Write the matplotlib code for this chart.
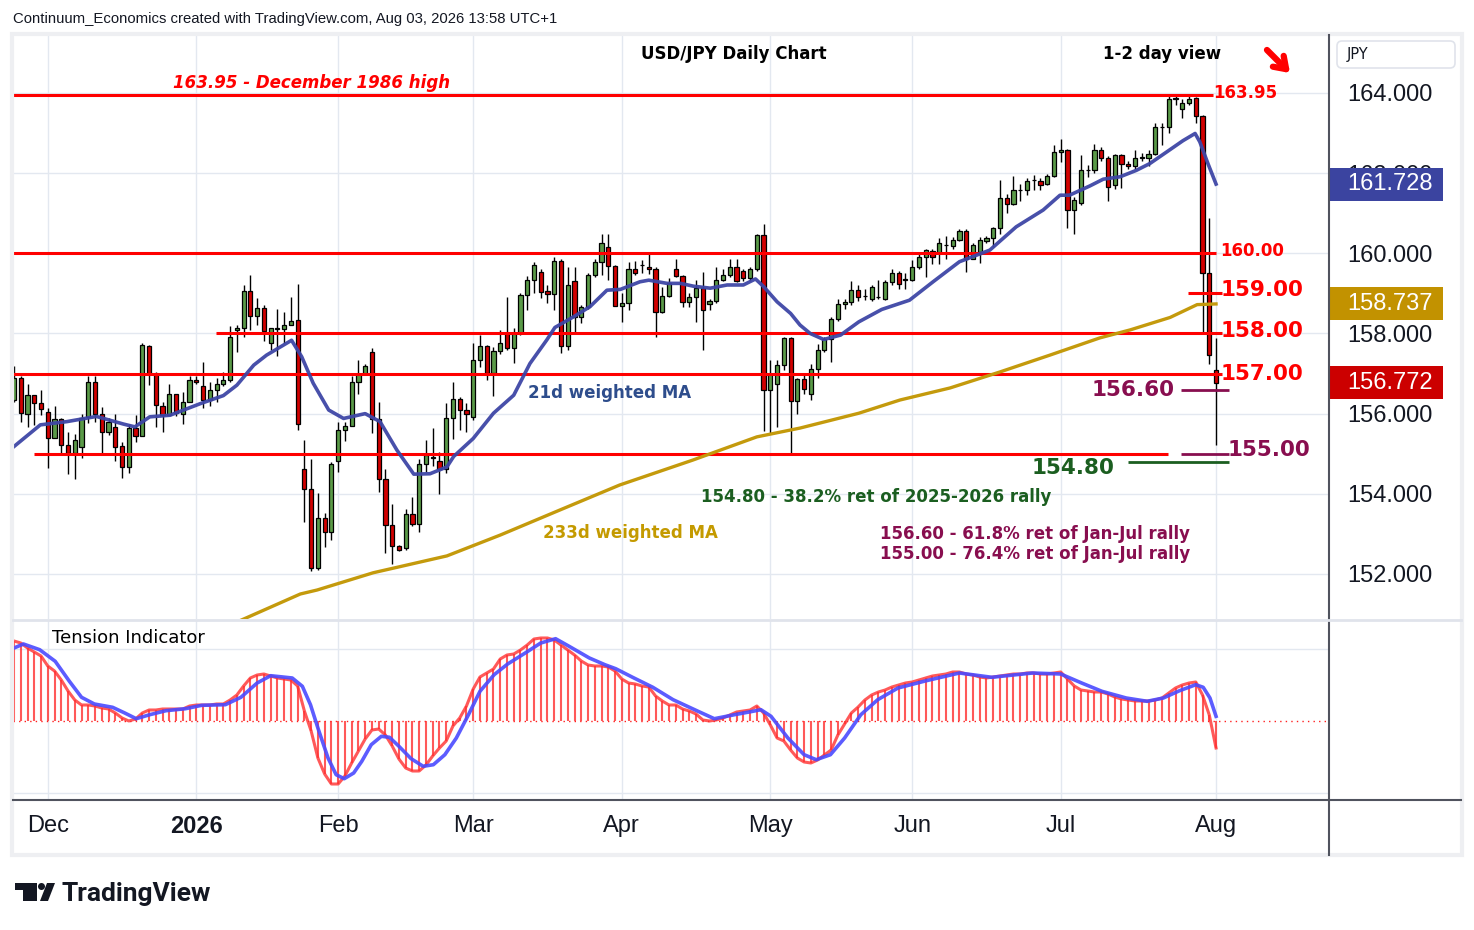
import numpy as np
import matplotlib.pyplot as plt
from matplotlib.patches import Rectangle, FancyBboxPatch, Polygon, Circle
import matplotlib.transforms as mtransforms

W, H = 1474, 930

# daily OHLC, one entry per bar (late Nov 2025 .. 3 Aug 2026)
opens = [156.35, 156.9, 156.0, 156.46, 156.26, 156.03, 155.38, 155.86, 155.21, 155.03,
         155.16, 155.91, 156.8, 155.98, 155.55, 155.66, 155.18, 154.66, 155.63, 155.43,
         157.68, 156.99, 156.2, 155.96, 156.48, 156.0, 156.3, 156.85, 156.68, 156.33,
         156.58, 156.73, 156.83, 158.08, 158.13, 159.05, 158.43, 158.63, 157.75, 158.13,
         158.1, 158.22, 158.33, 154.61, 154.11, 152.14, 153.39, 153.05, 154.83, 155.58,
         155.7, 156.8, 156.98, 157.55, 155.86, 154.36, 153.21, 152.69, 152.64, 153.49,
         153.24, 154.74, 154.9, 154.83, 154.63, 155.88, 156.36, 156.08, 155.92, 157.35,
         157.69, 157.02, 157.56, 158.02, 157.63, 158.02, 158.96, 159.33, 159.53, 159.06,
         158.98, 159.81, 157.69, 159.31, 158.4, 158.67, 159.45, 159.78, 160.15, 159.68,
         158.69, 158.77, 159.6, 159.7, 159.67, 159.6, 158.53, 158.93, 159.6, 159.43,
         158.79, 158.92, 159.13, 158.74, 158.8, 159.33, 159.45, 159.65, 159.57, 159.39,
         159.6, 160.46, 156.58, 156.73, 157.21, 157.89, 156.31, 156.86, 156.5, 157.12,
         157.6, 157.85, 158.35, 158.73, 158.78, 159.08, 158.93, 158.87, 158.9, 158.87,
         159.29, 159.5, 159.35, 159.34, 159.65, 159.9, 160.06, 160.01, 160.2, 160.18,
         160.34, 160.55, 159.87, 160.04, 160.31, 160.37, 160.62, 161.37, 161.23, 161.57,
         161.58, 161.82, 161.81, 161.73, 161.94, 162.52, 162.57, 161.09, 161.26, 162.08,
         162.08, 162.59, 162.37, 161.7, 162.45, 162.24, 162.17, 162.39, 162.39, 162.49,
         163.15, 163.14, 163.86, 163.59, 163.74, 163.87, 163.42, 159.5, 157.1]
highs = [157.2, 156.95, 156.73, 156.46, 156.59, 156.15, 156.19, 155.9, 155.55, 155.48,
         156.0, 156.95, 156.94, 156.16, 155.88, 155.99, 155.3, 155.74, 155.97, 157.76,
         157.71, 157.04, 156.3, 156.73, 156.5, 156.55, 156.95, 156.95, 157.29, 156.78,
         156.88, 157.05, 158.19, 158.2, 159.2, 159.46, 158.88, 158.7, 158.14, 158.6,
         158.53, 158.92, 159.24, 155.33, 154.86, 154.03, 153.51, 154.79, 155.78, 155.78,
         156.95, 157.35, 157.25, 157.65, 156.28, 154.63, 153.74, 152.72, 153.62, 153.91,
         154.86, 155.33, 155.63, 155.05, 156.26, 156.8, 156.42, 156.26, 157.75, 157.96,
         157.72, 157.67, 158.09, 158.92, 158.14, 159.02, 159.43, 159.79, 159.6, 159.21,
         159.9, 159.86, 159.67, 159.67, 158.7, 159.52, 159.85, 160.47, 160.49, 159.72,
         159.02, 159.79, 159.82, 159.83, 160.0, 159.65, 159.15, 159.38, 159.87, 159.45,
         159.0, 159.33, 159.53, 158.85, 159.65, 159.6, 159.85, 159.85, 159.6, 159.65,
         160.49, 160.72, 157.34, 157.34, 157.92, 157.92, 156.9, 156.96, 157.25, 157.74,
         157.9, 158.42, 158.85, 158.85, 159.3, 159.2, 159.1, 159.2, 159.33, 159.33,
         159.62, 159.55, 159.52, 159.83, 160.0, 160.12, 160.1, 160.39, 160.43, 160.4,
         160.6, 160.6, 160.25, 160.41, 160.43, 160.65, 161.83, 161.49, 161.93, 161.74,
         161.87, 161.95, 161.87, 161.99, 162.7, 162.85, 162.6, 161.4, 162.45, 162.2,
         162.72, 162.65, 162.42, 162.48, 162.49, 162.3, 162.57, 162.5, 162.57, 163.26,
         163.24, 163.95, 163.92, 163.84, 163.92, 163.91, 163.45, 160.87, 157.88]
lows = [156.3, 155.8, 155.66, 155.72, 155.96, 154.65, 155.38, 155.0, 154.5, 154.36,
        154.9, 155.76, 155.8, 154.97, 155.46, 154.82, 154.4, 154.51, 155.28, 155.43,
        156.71, 155.66, 155.55, 155.96, 155.95, 155.75, 156.3, 156.75, 156.13, 156.18,
        156.3, 156.7, 156.78, 157.53, 157.9, 158.08, 158.2, 157.82, 157.6, 157.45,
        157.75, 158.2, 155.59, 153.3, 152.08, 152.1, 152.68, 152.85, 154.55, 155.31,
        155.7, 156.5, 156.98, 155.52, 154.05, 152.53, 152.25, 152.58, 152.6, 153.2,
        153.05, 154.55, 154.7, 154.0, 154.53, 155.36, 155.59, 155.55, 155.85, 157.17,
        156.84, 156.44, 157.5, 157.6, 157.27, 157.95, 158.58, 159.0, 158.88, 158.75,
        158.58, 157.52, 157.6, 158.02, 158.27, 158.6, 159.4, 159.46, 159.33, 158.68,
        158.29, 158.58, 159.45, 159.5, 159.48, 157.9, 158.5, 158.9, 159.4, 158.65,
        158.65, 158.29, 157.6, 158.58, 158.75, 159.3, 159.4, 159.28, 159.3, 159.3,
        159.55, 155.57, 155.51, 155.67, 157.1, 155.0, 156.0, 156.5, 156.35, 156.9,
        157.55, 157.3, 158.3, 158.6, 158.7, 158.8, 158.83, 158.8, 158.85, 158.83,
        159.2, 159.12, 159.12, 159.3, 159.62, 159.4, 159.73, 159.73, 159.87, 160.1,
        160.3, 159.54, 159.85, 159.75, 160.25, 160.16, 160.48, 161.01, 161.2, 161.31,
        161.45, 161.58, 161.58, 161.7, 161.9, 162.28, 160.64, 160.49, 161.2, 161.9,
        162.0, 162.3, 161.31, 161.6, 161.62, 162.1, 162.1, 162.3, 162.17, 162.45,
        162.7, 163.0, 163.7, 163.37, 163.7, 163.26, 157.99, 157.25, 155.21]
closes = [156.9, 156.01, 156.46, 156.26, 156.11, 155.38, 155.86, 155.21, 155.03, 155.33,
          155.9, 156.8, 155.98, 155.55, 155.78, 155.17, 154.66, 155.63, 155.43, 157.7,
          156.99, 156.21, 155.96, 156.48, 156.01, 156.3, 156.85, 156.8, 156.33, 156.58,
          156.73, 156.83, 157.9, 158.13, 159.05, 158.43, 158.63, 158.05, 158.13, 158.12,
          158.22, 158.32, 155.73, 154.11, 152.14, 153.39, 153.05, 154.74, 155.58, 155.7,
          156.8, 156.98, 157.18, 155.86, 154.36, 153.21, 152.69, 152.61, 153.49, 153.24,
          154.74, 154.98, 154.92, 154.63, 155.88, 156.36, 156.08, 155.98, 157.35, 157.69,
          157.02, 157.56, 157.75, 157.63, 158.02, 158.96, 159.33, 159.71, 159.04, 158.98,
          159.81, 157.69, 159.21, 158.4, 158.67, 159.45, 159.78, 160.25, 159.68, 158.69,
          158.77, 159.6, 159.5, 159.71, 159.6, 158.53, 158.93, 159.25, 159.43, 158.79,
          158.92, 159.13, 158.59, 158.8, 159.33, 159.45, 159.65, 159.31, 159.39, 159.6,
          160.46, 156.58, 156.99, 157.21, 157.89, 156.31, 156.86, 156.62, 157.12, 157.6,
          157.85, 158.35, 158.73, 158.78, 159.08, 158.92, 158.94, 159.16, 158.92, 159.29,
          159.5, 159.23, 159.34, 159.65, 159.9, 160.08, 159.9, 160.26, 160.21, 160.34,
          160.55, 159.87, 160.2, 160.33, 160.37, 160.62, 161.37, 161.24, 161.58, 161.58,
          161.8, 161.83, 161.7, 161.94, 162.52, 162.57, 161.09, 161.33, 162.08, 162.09,
          162.59, 162.37, 161.66, 162.45, 162.24, 162.19, 162.39, 162.4, 162.49, 163.16,
          163.16, 163.84, 163.87, 163.74, 163.86, 163.42, 159.5, 157.46, 156.772]

month_idx = [5, 27, 48, 68, 90, 112, 133, 155, 178]
month_labels = ["Dec", "2026", "Feb", "Mar", "Apr", "May", "Jun", "Jul", "Aug"]
price_ticks = [152, 154, 156, 158, 160, 162, 164]

ma21_idx = [0, 3.9, 7.8, 12.2, 16.2, 17.9, 20.1, 23.1, 27.6, 31, 33, 35.5, 37.4, 41.1,
            42.6, 44.3, 46.6, 48.8, 52, 54.2, 56.7, 59.2, 61.6, 64.1, 65.1, 68, 71, 74,
            76.4, 78.9, 80.1, 82.9, 85.3, 87.8, 89.8, 92.7, 94, 96.7, 98.7, 100.6, 103.1,
            105.6, 108, 109.8, 111, 113, 115, 116.4, 117.9, 119.9, 122.4, 125.1, 128.5,
            132.6, 136.1, 140, 144.5, 148.4, 152.4, 154.9, 156.3, 159.3, 161.3, 163.8,
            166.2, 168.2, 170.7, 173.1, 174.9, 175.6, 176.8, 178]
ma21_val = [155.18, 155.72, 155.8, 155.93, 155.74, 155.67, 155.92, 155.96, 156.25, 156.45,
            156.71, 157.21, 157.46, 157.83, 157.42, 156.76, 156.09, 155.88, 156.0, 155.8,
            155.09, 154.49, 154.5, 154.67, 154.93, 155.38, 156.01, 156.46, 157.25, 157.84,
            158.15, 158.42, 158.67, 159.08, 159.1, 159.29, 159.33, 159.25, 159.25, 159.18,
            159.13, 159.21, 159.21, 159.36, 159.17, 158.79, 158.5, 158.21, 158.0, 157.85,
            157.96, 158.29, 158.6, 158.83, 159.29, 159.79, 160.08, 160.66, 161.08, 161.45,
            161.45, 161.68, 161.85, 161.91, 162.07, 162.24, 162.53, 162.81, 162.99, 162.78,
            162.24, 161.728]

# 233d weighted MA
ma233_idx = [33, 42.4, 44.9, 53.2, 64.1, 72, 80.9, 89.7, 100.5, 110, 116.4, 125.1, 131.2,
             138.6, 146, 153.4, 160.8, 165.3, 171.2, 175.2, 178]
ma233_val = [150.8, 151.5, 151.6, 152.03, 152.45, 152.97, 153.6, 154.22, 154.84, 155.42,
             155.64, 156.01, 156.34, 156.64, 157.04, 157.46, 157.89, 158.09, 158.4, 158.72,
             158.737]

# tension indicator, one value per bar
tension = [80, 78, 73, 69, 65, 55, 50, 41, 30, 21, 16, 16, 15, 13, 12, 8, 3, 0, 2, 8,
           11, 11, 12, 12, 12, 12, 15, 16, 16, 16, 17, 17, 21, 26, 35, 43, 46, 47, 45, 43,
           42, 41, 35, 10, -10, -37, -53, -63, -63, -55, -42, -30, -18, -9, -8, -14, -25,
           -38, -47, -50, -50, -44, -35, -27, -20, -5, 3, 15, 32, 44, 48, 52, 62, 66, 67,
           71, 76, 82, 83, 83, 81, 76, 71, 66, 60, 56, 55, 55, 54, 50, 42, 38, 37, 35, 34,
           25, 20, 16, 16, 12, 10, 7, 1, 0, 1, 3, 6, 9, 10, 11, 15, 8, -4, -17, -20, -29,
           -37, -41, -42, -39, -34, -29, -14, -3, 8, 14, 21, 26, 29, 31, 34, 36, 38, 39, 41,
           43, 45, 46, 47, 49, 49, 47, 46, 44, 43, 44, 45, 46, 47, 47, 48, 48, 47, 47, 48,
           49, 42, 35, 31, 30, 29, 29, 27, 24, 22, 21, 20, 20, 20, 21, 23, 28, 33, 36, 38,
           39, 26, 6, -27]
# tension signal line
tsig_idx = [0, 1.4, 3.8, 6.1, 8.2, 10, 11.9, 14.6, 16.4, 18.1, 20.1, 22.5, 25.4, 27.8,
            31.3, 33.6, 36, 38, 41.2, 42.7, 43.9, 45, 46.5, 47.7, 48.9, 50.3, 51.5, 52.9,
            54.4, 55.6, 57, 58.8, 60.6, 62.1, 63.8, 65.5, 67.3, 69, 71.1, 73.1, 75.7, 78,
            80.2, 82.2, 85.2, 87.5, 89.1, 91.6, 94.6, 97.6, 101.3, 103.7, 106.7, 109.4,
            110.6, 112.1, 114.6, 117, 118.8, 120.9, 123, 125.4, 127.9, 130.9, 135.1, 140,
            144.8, 150.8, 155, 158.1, 161.1, 164.7, 167.8, 170.2, 172.6, 175, 176.1, 177.1,
            178]
tsig_val = [73, 77, 71.3, 59.7, 39.7, 23.7, 17, 13.7, 8, 2.3, 6.3, 10.3, 12.3, 15.7, 16.3,
            23.7, 38, 45.3, 43, 34.7, 16.3, -7, -37, -53.7, -57.7, -52, -40.3, -23.7, -15.3,
            -16.3, -25.3, -37.7, -45.3, -43.7, -33.7, -17, 6.3, 29.7, 46.3, 57, 68, 78,
            82.3, 74.7, 63, 56.3, 52.3, 43.7, 33.7, 21.3, 9.7, 2.3, 6.3, 9.7, 11.3, 4.7,
            -17, -33.7, -38.7, -33.7, -17, 6.3, 21.3, 33, 40.3, 48, 43.7, 48, 47, 38, 29.7,
            23, 19.7, 23, 30.3, 36.3, 33.7, 23, 4.7]

last_price = 156.772
last_ma21 = 161.728
last_ma233 = 158.737

RED = "#ff0000"
PURPLE = "#880e4f"
DKGREEN = "#1b5e20"
TXT = "#131722"
GRID = "#e3e8f0"


def fx(px):
    return px / W


def fy(py):
    return 1 - py / H


def bx(px):
    # pixel column -> bar position
    return (px - 14) / 6.753


fig = plt.figure(figsize=(W / 100, H / 100), dpi=100)
ax = fig.add_axes([fx(13), fy(619), fx(1329) - fx(13), fy(35) - fy(619)])
axt = fig.add_axes([fx(13), fy(800), fx(1329) - fx(13), fy(620) - fy(800)], sharex=ax)

# ---- price panel
idx = np.arange(len(opens))
o, h, l, c = map(np.array, (opens, highs, lows, closes))
up = c >= o
ax.vlines(idx, l, h, color="black", lw=1, zorder=3)
ax.bar(idx, np.maximum(np.abs(c - o), 0.006), bottom=np.minimum(o, c), width=0.62,
       color=np.where(up, "#5a9a48", "#d20000"), edgecolor="black", lw=0.9, zorder=4)

ax.plot(ma21_idx, ma21_val, color="#3e46a6", lw=2.6, alpha=0.95, zorder=6)
ax.plot(ma233_idx, ma233_val, color="#c49a0c", lw=2.4, zorder=6)

ax.hlines(163.95, -0.2, bx(1213), color=RED, lw=2.2, zorder=5)
ax.hlines(160.0, -0.2, bx(1216), color=RED, lw=2.2, zorder=5)
ax.hlines(159.0, bx(1188), bx(1222), color=RED, lw=2.2, zorder=5)
ax.hlines(158.0, bx(216), bx(1222), color=RED, lw=2.2, zorder=5)
ax.hlines(157.0, -0.2, bx(1222), color=RED, lw=2.2, zorder=5)
ax.hlines(155.0, bx(34), bx(1168), color=RED, lw=2.2, zorder=5)
ax.hlines(156.6, bx(1181), bx(1229), color=PURPLE, lw=2, zorder=5)
ax.hlines(155.0, bx(1181), bx(1229), color=PURPLE, lw=2, zorder=5)
ax.hlines(154.8, bx(1128), bx(1229), color=DKGREEN, lw=2, zorder=5)

ax.set_xlim(-0.15, bx(1329))
ax.set_ylim(150.876, 165.447)
ax.set_xticks(month_idx)
ax.set_yticks(price_ticks)
ax.set_yticklabels([f"{v:.3f}" for v in price_ticks])
ax.yaxis.tick_right()
ax.tick_params(axis="x", length=0, labelbottom=False)
ax.tick_params(axis="y", length=0, pad=13, labelsize=17, labelcolor=TXT)
for lab in ax.get_yticklabels():
    lab.set_family(["Liberation Sans", "DejaVu Sans"])
ax.grid(color=GRID, lw=1)
ax.set_axisbelow(True)
for s in ax.spines.values():
    s.set_visible(False)

# current value boxes on the price scale
trans = mtransforms.blended_transform_factory(ax.transAxes, ax.transData)
half = 16.5 / 40.08
for val, col in [(last_ma21, "#3b44a0"), (last_ma233, "#c29200"), (last_price, "#cc0000")]:
    ax.add_patch(Rectangle((1.0, val - half), 114 / 1316, 2 * half, transform=trans,
                           facecolor=col, edgecolor="none", clip_on=False, zorder=20))
    ax.text(1 + 18 / 1316, val, f"{val:.3f}", transform=trans, color="white", fontsize=17,
            family=["Liberation Sans", "DejaVu Sans"], va="center", ha="left",
            clip_on=False, zorder=21)

# ---- tension panel
axt.vlines(idx, 0, tension, color="#ff3030", lw=1.5, alpha=0.8, zorder=3)
axt.plot(idx, tension, color="#ff3030", lw=2.2, alpha=0.8, zorder=4)
axt.plot(tsig_idx, tsig_val, color="#4a4aff", lw=2.6, alpha=0.9, zorder=5)
axt.axhline(0, color="#ff2020", lw=1, ls=(0, (1, 3)), zorder=2)
axt.set_ylim(-79, 101)
axt.set_yticks([-72, 72])
axt.tick_params(axis="y", length=0, labelleft=False, labelright=False)
axt.set_xticks(month_idx)
axt.set_xticklabels(month_labels)
axt.tick_params(axis="x", length=0, pad=11, labelsize=17, labelcolor=TXT)
for lab in axt.get_xticklabels():
    lab.set_family(["Liberation Sans", "DejaVu Sans"])
    if lab.get_text() == "2026":
        lab.set_fontweight("bold")
axt.grid(color=GRID, lw=1)
axt.set_axisbelow(True)
for s in axt.spines.values():
    s.set_visible(False)

# ---- overlay in pixel coordinates for frame, annotations and logo
ov = fig.add_axes([0, 0, 1, 1], zorder=10)
ov.set_xlim(0, W)
ov.set_ylim(H, 0)
ov.axis("off")
ov.patch.set_alpha(0)

ov.add_patch(Rectangle((12, 34), 1450, 821, fill=False, edgecolor="#eeeff2", lw=3))
ov.plot([1329, 1329], [35, 855], color="#50535e", lw=1.5)
ov.plot([13, 1461], [800, 800], color="#50535e", lw=1.5)
ov.plot([13, 1461], [619.5, 619.5], color="#e0e3eb", lw=2)
ov.add_patch(FancyBboxPatch((1337, 41), 118, 27, boxstyle="round,pad=0,rounding_size=5",
                            facecolor="white", edgecolor="#e0e3eb", lw=1.2))
ov.text(1347, 55, "JPY", fontsize=10.5, color=TXT, va="center")

ov.text(13, 19, "Continuum_Economics created with TradingView.com, Aug 03, 2026 13:58 UTC+1",
        fontsize=10.7, color=TXT, va="center", family=["Liberation Sans", "DejaVu Sans"])

bold = dict(fontweight="bold", va="center")
ov.text(734, 54, "USD/JPY Daily Chart", fontsize=12, color="black", ha="center", **bold)
ov.text(1162, 54, "1-2 day view", fontsize=12, color="black", ha="center", **bold)
ov.annotate("", xy=(1292, 75), xytext=(1265, 48),
            arrowprops=dict(arrowstyle="->,head_length=0.8,head_width=0.55", lw=4.5,
                            color=RED))
ov.text(312, 83, "163.95 - December 1986 high", fontsize=12, color=RED, ha="center",
        style="italic", **bold)

ov.text(1213, 93, "163.95", fontsize=12, color=RED, **bold)
ov.text(1220, 251, "160.00", fontsize=12, color=RED, **bold)
ov.text(1221, 290, "159.00", fontsize=15.5, color=RED, **bold)
ov.text(1221, 331, "158.00", fontsize=15.5, color=RED, **bold)
ov.text(1221, 374, "157.00", fontsize=15.5, color=RED, **bold)
ov.text(1175, 390, "156.60", fontsize=15.5, color=PURPLE, ha="right", **bold)
ov.text(1228, 450, "155.00", fontsize=15.5, color=PURPLE, **bold)
ov.text(1032, 468, "154.80", fontsize=15.5, color=DKGREEN, **bold)

ov.text(528, 393, "21d weighted MA", fontsize=12, color="#2e4d8c", **bold)
ov.text(876, 497, "154.80 - 38.2% ret of 2025-2026 rally", fontsize=12, color=DKGREEN,
        ha="center", **bold)
ov.text(630, 533, "233d weighted MA", fontsize=12, color="#c49a00", ha="center", **bold)
ov.text(1190, 534, "156.60 - 61.8% ret of Jan-Jul rally", fontsize=12, color=PURPLE,
        ha="right", **bold)
ov.text(1190, 554, "155.00 - 76.4% ret of Jan-Jul rally", fontsize=12, color=PURPLE,
        ha="right", **bold)

ov.text(52, 638, "Tension Indicator", fontsize=13, color="black", va="center")

# TradingView logo
ov.add_patch(Rectangle((15, 883), 22, 7, color=TXT, lw=0))
ov.add_patch(Rectangle((23, 883), 14, 18, color=TXT, lw=0))
ov.add_patch(Circle((41.5, 886.5), 3.5, color=TXT, lw=0))
ov.add_patch(Polygon([(47, 883), (55, 883), (48, 901), (40, 901)], closed=True, color=TXT, lw=0))
ov.text(62, 901, "TradingView", fontsize=19, fontweight="bold", color=TXT, va="baseline",
        family=["Roboto", "DejaVu Sans"])

fig.savefig("out.png", dpi=100)
